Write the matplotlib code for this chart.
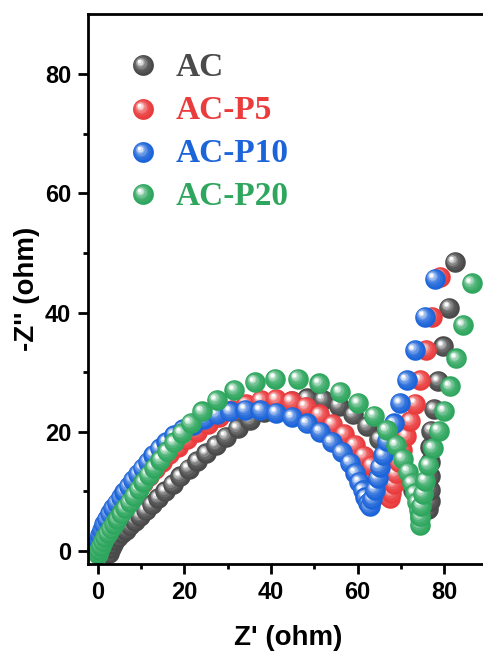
import matplotlib
matplotlib.use("Agg")
import matplotlib.pyplot as plt
import matplotlib.transforms as mtransforms
from matplotlib.colors import to_rgb

plt.rcParams['font.family'] = ['Liberation Sans', 'DejaVu Sans']
plt.rcParams['font.weight'] = 'bold'

# ---------------- data (Z' , -Z'') ----------------
ac_x = [2.6, 3.0, 3.5, 4.1, 4.8, 5.6, 6.5, 7.5, 8.6, 9.8, 11.1, 12.5, 14.0, 15.6, 17.3, 19.1, 21.0, 23.0, 25.1,
        27.3, 29.6, 32.3, 35.2, 38.3, 41.5, 44.9, 48.4, 52.0, 55.6, 59.0, 62.2, 65.0, 67.5, 69.6, 71.4, 72.9,
        74.1, 75.0, 75.7, 76.2, 76.6, 76.7, 76.7, 76.7, 76.8, 77.0, 77.6, 78.6, 79.8, 81.1, 82.4]
ac_y = [-0.3, 0.5, 1.2, 1.8, 2.4, 3.0, 3.6, 4.3, 5.1, 5.9, 6.8, 7.8, 8.9, 10.0, 11.2, 12.5, 13.8, 15.1, 16.4,
        17.8, 19.2, 20.6, 22.0, 23.3, 24.4, 25.2, 25.6, 25.4, 24.4, 22.9, 21.0, 18.8, 16.4, 14.1, 12.0, 10.2,
        8.8, 7.9, 7.3, 7.0, 8.4, 10.3, 12.5, 14.9, 17.4, 20.2, 23.8, 28.5, 34.3, 40.8, 48.5]

p5_x = [0.0, 0.3, 0.6, 1.0, 1.5, 2.0, 2.6, 3.3, 4.1, 4.9, 5.8, 6.8, 7.9, 9.1, 10.4, 11.8, 13.3, 14.9, 16.6,
        18.5, 20.6, 22.9, 25.4, 28.1, 31.1, 34.3, 37.7, 41.2, 44.7, 48.0, 51.2, 54.2, 56.9, 59.3, 61.4, 63.2,
        64.7, 65.8, 66.6, 67.1, 67.4, 67.8, 68.3, 68.8, 69.5, 70.3, 71.2, 72.2, 73.3, 74.5, 75.9, 77.2, 79.0]
p5_y = [-0.3, 0.5, 1.2, 1.9, 2.6, 3.3, 4.0, 4.8, 5.6, 6.4, 7.3, 8.2, 9.2, 10.3, 11.4, 12.6, 13.8, 15.0, 16.2,
        17.4, 18.7, 20.0, 21.3, 22.5, 23.6, 24.6, 25.3, 25.5, 25.1, 24.2, 22.9, 21.3, 19.6, 17.8, 16.0, 14.3,
        12.7, 11.3, 10.1, 9.3, 8.9, 9.8, 11.3, 13.0, 14.9, 17.0, 19.3, 21.8, 24.7, 28.7, 33.7, 39.3, 46.0]

p10_x = [-0.1, 0.1, 0.3, 0.6, 1.0, 1.5, 2.1, 2.8, 3.6, 4.4, 5.3, 6.2, 7.2, 8.2, 9.3, 10.4, 11.6, 12.9, 14.3,
         15.9, 17.7, 19.7, 22.0, 24.6, 27.5, 30.6, 34.1, 37.6, 41.2, 44.9, 48.3, 51.3, 54.0, 56.3, 58.2, 59.5,
         60.4, 61.2, 61.8, 62.4, 62.8, 63.4, 64.0, 64.6, 65.1, 65.9, 66.8, 68.4, 69.8, 71.3, 73.2, 75.5, 77.8]
p10_y = [0.0, 0.9, 1.8, 2.7, 3.6, 4.5, 5.4, 6.3, 7.2, 8.1, 9.0, 9.9, 10.9, 11.9, 12.9, 13.9, 15.0, 16.1, 17.2,
         18.3, 19.4, 20.4, 21.2, 22.1, 22.9, 23.4, 23.7, 23.6, 23.2, 22.5, 21.4, 20.0, 18.3, 16.6, 14.8, 13.1,
         11.6, 10.2, 9.0, 8.0, 7.5, 8.7, 10.3, 12.2, 14.1, 16.1, 18.4, 21.4, 24.8, 28.7, 33.7, 39.3, 45.7]

p20_x = [0.0, 0.3, 0.7, 1.2, 1.7, 2.3, 3.0, 3.8, 4.6, 5.5, 6.4, 7.4, 8.4, 9.5, 10.6, 11.8, 13.1, 14.5, 16.0,
         17.6, 19.4, 21.5, 24.1, 27.5, 31.6, 36.3, 41.0, 46.2, 51.2, 55.9, 60.1, 63.8, 66.7, 68.9, 70.4, 71.6,
         72.5, 73.2, 73.7, 74.1, 74.3, 74.4, 74.5, 74.7, 75.1, 75.6, 76.3, 77.3, 78.7, 80.0, 81.3, 82.8, 84.3,
         86.3]
p20_y = [-0.5, 0.2, 0.9, 1.6, 2.3, 3.0, 3.8, 4.6, 5.4, 6.3, 7.2, 8.2, 9.3, 10.4, 11.6, 12.8, 14.0, 15.3, 16.7,
         18.2, 19.8, 21.5, 23.4, 25.3, 27.0, 28.3, 28.9, 28.9, 28.1, 26.7, 24.8, 22.7, 20.3, 17.8, 15.5, 13.3,
         11.4, 9.7, 8.2, 6.8, 5.5, 4.4, 5.8, 7.6, 9.6, 11.8, 14.4, 17.3, 20.2, 23.5, 27.6, 32.3, 37.9, 44.9]

labels = ['AC', 'AC-P5', 'AC-P10', 'AC-P20']
colors = ['#4a4a4a', '#ea3b3d', '#1c64d9', '#2ea65e']
series = [(ac_x, ac_y), (p5_x, p5_y), (p10_x, p10_y), (p20_x, p20_y)]

x_ticks = [0, 20, 40, 60, 80]
y_ticks = [0, 20, 40, 60, 80]

# ---------------- figure ----------------
W, H = 483, 651
fig = plt.figure(figsize=(W / 100, H / 100), dpi=100)
ax_l, ax_r, ax_t, ax_b = 88.0, 487.6, 14.4, 564.1
ax = fig.add_axes([ax_l / W, (H - ax_b) / H, (ax_r - ax_l) / W, (ax_b - ax_t) / H])

# sphere-like marker layers: (size fraction, white mix, highlight offset fraction)
LAYERS = [(1.00, 0.00, 0.00), (0.84, 0.06, 0.04), (0.68, 0.16, 0.08), (0.54, 0.32, 0.11),
          (0.40, 0.55, 0.14), (0.28, 0.80, 0.16), (0.16, 1.00, 0.17)]


def mix(c, f):
    return tuple(ci + (1 - ci) * f for ci in c)


def draw_ball(x, y, color, ms, base_tr):
    c = to_rgb(color)
    for sf, wf, of in LAYERS:
        tr = mtransforms.offset_copy(base_tr, fig=fig, x=-of * ms, y=of * ms, units='points')
        ax.plot([x], [y], marker='o', ms=ms * sf, color=mix(c, wf), mec='none', ls='none',
                transform=tr, clip_on=False)


MS = 14.8
for (xs, ys), col in zip(series, colors):
    for x, y in zip(xs, ys):
        draw_ball(x, y, col, MS, ax.transData)

# legend (manual)
ball_x = (143 - ax_l) / (ax_r - ax_l)
text_x = (176 - ax_l) / (ax_r - ax_l)
ball_rows = [65, 109, 152, 194]
base_rows = [76, 119, 162.5, 205]
for lab, col, by, ty in zip(labels, colors, ball_rows, base_rows):
    draw_ball(ball_x, (ax_b - by) / (ax_b - ax_t), col, 15, ax.transAxes)
    ax.text(text_x, (ax_b - ty) / (ax_b - ax_t), lab, transform=ax.transAxes,
            family=['Liberation Serif', 'DejaVu Serif'], weight='bold', size=24,
            color=col, va='baseline', ha='left')

ax.set_xlim(-2.2, 90)
ax.set_ylim(-2.2, 90)
ax.set_xticks(x_ticks)
ax.set_yticks(y_ticks)
ax.set_xticks([10, 30, 50, 70], minor=True)
ax.set_yticks([10, 30, 50, 70], minor=True)
ax.tick_params(which='major', length=7, width=2, direction='out', labelsize=17, colors='black')
ax.tick_params(axis='x', which='major', pad=5)
ax.tick_params(axis='y', which='major', pad=5)
ax.tick_params(which='minor', length=3.5, width=2, direction='out')
for lbl in ax.get_xticklabels() + ax.get_yticklabels():
    lbl.set_fontweight('bold')

for s in ['left', 'bottom', 'top', 'right']:
    ax.spines[s].set_linewidth(2)

ax.set_xlabel("Z' (ohm)", fontsize=20, fontweight='bold')
ax.set_ylabel("-Z'' (ohm)", fontsize=20, fontweight='bold')
ax.xaxis.set_label_coords(0.5, (ax_b - 638) / (ax_b - ax_t))
ax.xaxis.label.set_va('center')
ax.yaxis.set_label_coords((27 - ax_l) / (ax_r - ax_l), 0.5)
ax.yaxis.label.set_va('center')
ax.yaxis.label.set_ha('center')

fig.savefig('out.png', dpi=100)
